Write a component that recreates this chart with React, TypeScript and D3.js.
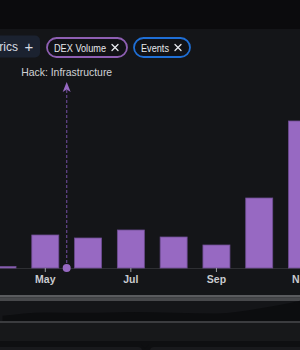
import { area, curveMonotoneX, scaleLinear } from 'd3'

const months = ['Apr', 'May', 'Jun', 'Jul', 'Aug', 'Sep', 'Oct', 'Nov']
const dexVolume = [1.5, 33, 30, 38, 31, 23, 70, 147]
const tickMonths = ['May', 'Jul', 'Sep', 'Nov']
const eventLabels = ['Hack: Infrastructure']
const eventMonthPositions = [1.5]
const pillLabels = ['DEX Volume', 'Events']

const W = 300
const H = 350
const baseline = 268
const barWidth = 27
const font = '"Liberation Sans", Arial, sans-serif'

export default function App() {
  const x = scaleLinear()
    .domain([0, months.length - 1])
    .range([2.5, 302])
  const y = scaleLinear().domain([0, 150]).range([baseline, 118])

  // mini overview in the slider strip
  const ySlider = scaleLinear().domain([0, 150]).range([316, 300])
  const sliderArea = area<number>()
    .x((_, i) => x(i))
    .y0(321)
    .y1((d) => ySlider(d))
    .curve(curveMonotoneX)

  const pillWidths = [80, 56]
  const pillTextWidths = [52, 28]
  const pillColors = ['#8e5fb3', '#1f6fd6']
  let pillX = 47

  return (
    <svg width={W} height={H} style={{ display: 'block', position: 'absolute', left: 0, top: 0 }}>
      <style>{`body{margin:0;background:#141518}`}</style>
      <rect x={0} y={0} width={W} height={H} fill="#141518" />
      <rect x={0} y={0} width={W} height={29} fill="#0b0b0d" />

      {/* toolbar */}
      <rect x={-20} y={35.5} width={60} height={22} rx={5} fill="#1b2230" />
      <text x={18} y={51} textAnchor="end" fill="#d8dce4" fontSize={12} fontFamily={font}>
        Metrics
      </text>
      <text x={29} y={51.5} textAnchor="middle" fill="#d8dce4" fontSize={15} fontFamily={font}>
        +
      </text>
      {pillLabels.map((label, i) => {
        const px = pillX
        pillX += pillWidths[i] + 7
        return (
          <g key={label}>
            <rect
              x={px}
              y={38}
              width={pillWidths[i]}
              height={19}
              rx={9.5}
              fill="#111216"
              stroke={pillColors[i]}
              strokeWidth={1.8}
            />
            <text
              x={px + 7}
              y={51.5}
              fill="#e6e8ec"
              fontSize={11}
              fontFamily={font}
              textLength={pillTextWidths[i]}
              lengthAdjust="spacingAndGlyphs"
            >
              {label}
            </text>
            <g
              transform={`translate(${px + pillWidths[i] - 12},47.5)`}
              stroke="#e6e8ec"
              strokeWidth={1.3}
              strokeLinecap="round"
            >
              <line x1={-3} y1={-3} x2={3} y2={3} />
              <line x1={-3} y1={3} x2={3} y2={-3} />
            </g>
          </g>
        )
      })}

      {/* baseline */}
      <line x1={0} x2={W} y1={baseline + 0.5} y2={baseline + 0.5} stroke="#2e2f33" />

      {/* bars */}
      {dexVolume.map((v, i) => (
        <rect
          key={months[i]}
          x={x(i) - barWidth / 2}
          y={y(v)}
          width={barWidth}
          height={baseline - y(v)}
          fill="#9769c2"
          stroke="#6e4d92"
          strokeWidth={0.8}
        />
      ))}

      {/* events */}
      {eventLabels.map((label, i) => {
        const ex = x(eventMonthPositions[i])
        return (
          <g key={label}>
            <text
              x={ex}
              y={76}
              textAnchor="middle"
              fill="#d0d2d6"
              fontSize={11}
              fontFamily={font}
              textLength={91}
              lengthAdjust="spacingAndGlyphs"
            >
              {label}
            </text>
            <line x1={ex} x2={ex} y1={90} y2={baseline} stroke="#5e4284" strokeWidth={1.3} strokeDasharray="3,2" />
            <path d={`M${ex},82 L${ex + 4},92 L${ex},89.5 L${ex - 4},92 Z`} fill="#9769c2" />
            <circle cx={ex} cy={baseline} r={4} fill="#9769c2" />
          </g>
        )
      })}

      {/* x axis */}
      {tickMonths.map((m) => {
        const tx = x(months.indexOf(m))
        return (
          <g key={m} transform={`translate(${tx},0)`}>
            <line x1={0} x2={0} y1={baseline} y2={baseline + 4} stroke="#9a9ca0" />
            <text y={283} textAnchor="middle" fill="#c9cbcf" fontSize={10.5} fontWeight={700} fontFamily={font}>
              {m}
            </text>
          </g>
        )
      })}

      {/* slider */}
      <rect x={0} y={295} width={W} height={2.5} fill="#5a5b5e" />
      <rect x={0} y={297.5} width={W} height={3.5} fill="#47484b" />
      <path d={sliderArea(dexVolume) ?? ''} fill="#0c0d0f" />
      <rect x={0} y={321} width={W} height={2} fill="#3b3c3f" />
      <rect x={0} y={323} width={W} height={18} fill="#17181a" />
      <rect x={0} y={341} width={W} height={9} fill="#0e0f11" />
      <rect x={-10} y={347} width={152} height={10} rx={4} fill="#18191c" />
      <rect x={150} y={347} width={160} height={10} rx={4} fill="#18191c" />
      <path d="M141,344 L149,344 L145,349 Z" fill="#0e0f11" />
    </svg>
  )
}
